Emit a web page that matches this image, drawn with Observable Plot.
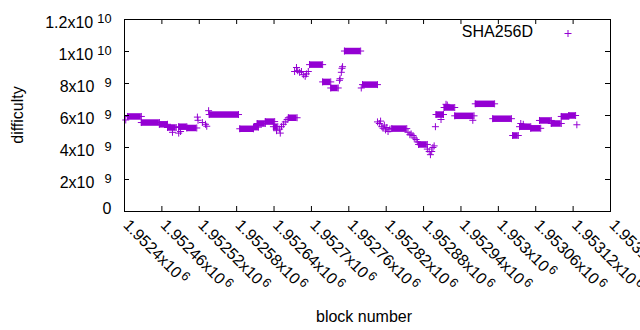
<!DOCTYPE html>
<html><head><meta charset="utf-8">
<script src="https://cdn.jsdelivr.net/npm/d3@7"></script>
<script src="https://cdn.jsdelivr.net/npm/@observablehq/plot@0.6"></script>
<style>
html,body{margin:0;padding:0;background:#fff;}
#chart{width:640px;height:330px;overflow:hidden;}
</style></head><body><div id="chart"></div>
<script>
// ---- data (block number runs of equal difficulty) ----
const seriesName = "SHA256D";
const runStart = [1952402,1952405,1952427,1952456,1952469,1952477,1952487,1952490,1952487,1952500,
  1952517,1952518,1952525,1952530,1952532,1952535,1952536,1952585,1952607,1952613,
  1952626,1952639,1952644,1952650,1952649,1952652,1952655,1952658,1952661,1952663,
  1952673,1952676,1952678,1952681,1952684,1952687,1952690,1952692,1952695,1952697,
  1952718,1952731,1952745,1952746,1952748,1952749,1952750,1952753,1952780,1952782,
  1952806,1952809,1952811,1952813,1952815,1952817,1952819,1952821,1952823,1952826,
  1952829,1952855,1952858,1952860,1952863,1952865,1952868,1952870,1952872,1952886,
  1952889,1952891,1952893,1952895,1952897,1952899,1952900,1952908,1952913,1952916,
  1952918,1952930,1952959,1952963,1952991,1953023,1953034,1953036,1953040,1953052,
  1953066,1953085,1953101,1953113,1953126];
const runEnd = [1952402,1952427,1952456,1952469,1952483,1952477,1952487,1952490,1952500,1952516,
  1952517,1952518,1952525,1952530,1952532,1952535,1952583,1952607,1952615,1952626,
  1952641,1952646,1952644,1952650,1952649,1952652,1952655,1952658,1952661,1952677,
  1952673,1952676,1952678,1952681,1952684,1952687,1952690,1952692,1952695,1952718,
  1952731,1952743,1952745,1952746,1952748,1952749,1952750,1952779,1952780,1952806,
  1952806,1952809,1952811,1952813,1952815,1952817,1952819,1952821,1952823,1952826,
  1952853,1952855,1952858,1952860,1952863,1952865,1952868,1952870,1952886,1952886,
  1952889,1952891,1952893,1952895,1952897,1952899,1952912,1952908,1952930,1952916,
  1952918,1952961,1952959,1952994,1953021,1953032,1953052,1953036,1953040,1953068,
  1953085,1953101,1953113,1953124,1953126];
const runValue = [5.72e9,5.94e9,5.56e9,5.45e9,5.25e9,4.95e9,4.9e9,5.0e9,5.3e9,5.22e9,
  5.9e9,5.7e9,5.56e9,5.45e9,5.33e9,6.3e9,6.06e9,5.17e9,5.27e9,5.5e9,
  5.62e9,5.3e9,5.05e9,4.9e9,5.15e9,5.3e9,5.45e9,5.6e9,5.75e9,5.86e9,
  8.75e9,9.0e9,8.8e9,8.7e9,8.75e9,8.55e9,8.45e9,8.6e9,8.75e9,9.18e9,
  8.1e9,7.72e9,8.2e9,8.3e9,8.7e9,8.95e9,9.05e9,10.03e9,7.72e9,7.93e9,
  5.6e9,5.5e9,5.65e9,5.3e9,5.2e9,5.4e9,5.1e9,5.25e9,5.0e9,5.15e9,
  5.18e9,4.95e9,4.8e9,4.85e9,4.75e9,4.6e9,4.5e9,4.35e9,4.19e9,3.9e9,
  3.75e9,3.55e9,3.75e9,4.0e9,4.1e9,5.3e9,6.06e9,5.75e9,6.5e9,6.7e9,
  6.65e9,5.98e9,5.7e9,6.73e9,5.8e9,4.75e9,5.3e9,5.5e9,5.45e9,5.2e9,
  5.69e9,5.5e9,5.94e9,6.0e9,5.42e9];
const xTicks = [1952400,1952460,1952520,1952580,1952640,1952700,1952760,1952820,1952880,1952940,1953000,1953060,1953120,1953180];
const xTickLabels = ["1.9524x10^6","1.95246x10^6","1.95252x10^6","1.95258x10^6","1.95264x10^6","1.9527x10^6","1.95276x10^6",
  "1.95282x10^6","1.95288x10^6","1.95294x10^6","1.953x10^6","1.95306x10^6","1.95312x10^6","1.95318x10^6"];
const yTicks = [0, 2e9, 4e9, 6e9, 8e9, 1e10, 1.2e10];
const yTickLabels = ["0","2x10^9","4x10^9","6x10^9","8x10^9","1x10^10","1.2x10^10"];
const xLabel = "block number";
const yLabel = "difficulty";

// ---- drawing ----
const color = "#9400d3";
const runs = runStart.map((s, i) => ({s, e: runEnd[i], v: runValue[i]}));
const ends = runs.flatMap(r => r.s === r.e ? [{b: r.s, v: r.v}] : [{b: r.s, v: r.v}, {b: r.e, v: r.v}]);
const plus = {draw(ctx) { ctx.moveTo(-3.5, 0); ctx.lineTo(3.5, 0); ctx.moveTo(0, -3.5); ctx.lineTo(0, 3.5); }};
const xLab = new Map(xTicks.map((t, i) => [t, xTickLabels[i]]));
const yLab = new Map(yTicks.map((t, i) => [t, yTickLabels[i]]));
const W = 640, H = 330, mL = 124, mR = 30, mT = 19, mB = 119;
const fw = W - mL - mR, fh = H - mT - mB, tk = 5;

const svg = Plot.plot({
  width: W, height: H,
  marginLeft: mL, marginRight: mR, marginTop: mT, marginBottom: mB,
  style: {fontFamily: "'Liberation Sans', Arial, sans-serif", fontSize: "16px", background: "#fff", color: "#000", overflow: "hidden"},
  x: {domain: [xTicks[0], xTicks[xTicks.length - 1]], axis: null},
  y: {domain: [yTicks[0], yTicks[yTicks.length - 1]], axis: null},
  marks: [
    Plot.ruleY(runs.filter(r => r.e > r.s), {y: "v", x1: "s", x2: "e", stroke: color, strokeWidth: 6.5}),
    Plot.dot(ends, {x: "b", y: "v", symbol: plus, stroke: color, fill: "none", strokeWidth: 1}),
    Plot.ruleX(xTicks, {x: d => d, insetTop: fh - tk, stroke: "#000"}),
    Plot.ruleX(xTicks, {x: d => d, insetBottom: fh - tk, stroke: "#000"}),
    Plot.ruleY(yTicks, {y: d => d, insetRight: fw - tk, stroke: "#000"}),
    Plot.ruleY(yTicks, {y: d => d, insetLeft: fw - tk, stroke: "#000"}),
    Plot.frame({stroke: "#000"}),
    Plot.text(xTicks, {x: d => d, frameAnchor: "bottom", text: d => xLab.get(d), rotate: 45,
      textAnchor: "start", lineAnchor: "middle", dx: 1.5, dy: 11, fill: "#000"}),
    Plot.text(yTicks.filter(d => d !== 0), {y: d => d, frameAnchor: "left", text: d => yLab.get(d),
      textAnchor: "end", lineAnchor: "bottom", dx: -13, dy: 8, fill: "#000"}),
    Plot.text(yTicks.filter(d => d === 0), {y: d => d, frameAnchor: "left", text: d => yLab.get(d),
      textAnchor: "end", lineAnchor: "bottom", dx: -13, dy: 2, fill: "#000"})
  ]
});

// superscripts (gnuplot enhanced text style)
const NS = "http://www.w3.org/2000/svg";
svg.querySelectorAll("text").forEach(t => {
  const s = t.textContent;
  const k = s.indexOf("^");
  if (k < 0) return;
  const rotated = (t.getAttribute("transform") || "").includes("rotate");
  t.textContent = s.slice(0, k);
  const ts = document.createElementNS(NS, "tspan");
  const sup = s.slice(k + 1);
  ts.setAttribute("dx", rotated ? 2 : 4 + (2 - sup.length) * 6);
  ts.setAttribute("dy", -5);
  ts.setAttribute("font-size", "12.8px");
  ts.textContent = sup;
  t.appendChild(ts);
});

function addText(str, x, y, anchor, rot) {
  const t = document.createElementNS(NS, "text");
  t.setAttribute("transform", `translate(${x},${y})` + (rot ? ` rotate(${rot})` : ""));
  t.setAttribute("text-anchor", anchor);
  t.setAttribute("fill", "#000");
  t.textContent = str;
  svg.appendChild(t);
}
addText(yLabel, 23, 115, "middle", -90);
addText(xLabel, 364, 321.5, "middle", 0);
addText(seriesName, 533, 37.3, "end", 0);
const lp = document.createElementNS(NS, "path");
lp.setAttribute("d", "M564.5,33.5h7M568,30v7");
lp.setAttribute("stroke", color);
lp.setAttribute("fill", "none");
svg.appendChild(lp);

document.getElementById("chart").appendChild(svg);
</script></body></html>
